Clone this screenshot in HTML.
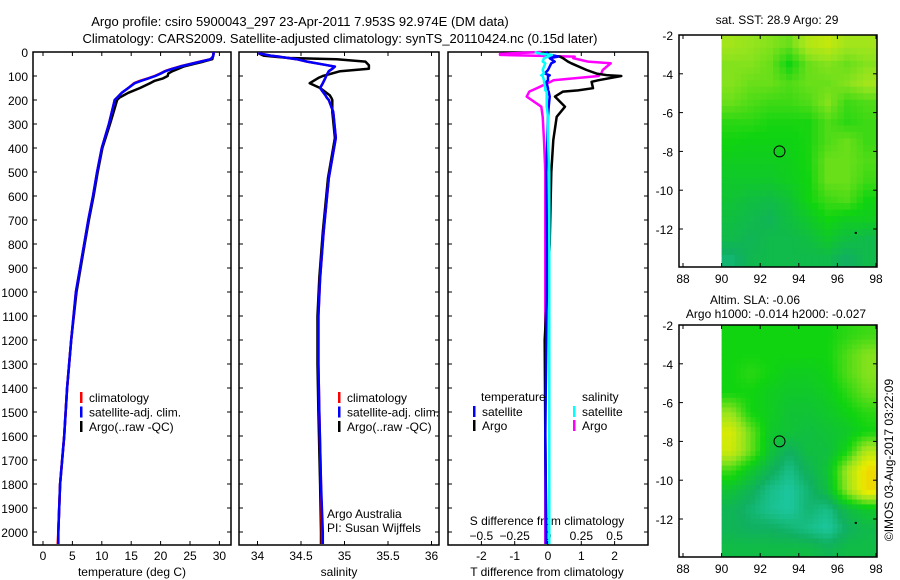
<!DOCTYPE html>
<html><head><meta charset="utf-8"><style>
body{margin:0;background:#fff;}
svg{display:block;font-family:"Liberation Sans",sans-serif;}
text{fill:#000;}
</style></head><body>
<svg id="c" width="900" height="580" viewBox="0 0 900 580" xmlns="http://www.w3.org/2000/svg">
<text x="300" y="26" font-size="13" text-anchor="middle">Argo profile: csiro 5900043_297 23-Apr-2011 7.953S 92.974E (DM data)</text>
<text x="340" y="43" font-size="13" text-anchor="middle">Climatology: CARS2009. Satellite-adjusted climatology: synTS_20110424.nc (0.15d later)</text>
<g id="g"></g>
</svg>
<script>
// ---- data ----
const tDepth=[0,10,20,30,40,50,60,70,80,90,100,110,120,130,150,170,190,200,250,300,400,500,600,700,800,1000,1200,1400,1600,1800,2000,2050];
const tClim=[29,29,28.9,28.5,26.7,25,23.3,21.9,20.7,19.9,19,17.8,16.5,15.5,14.5,13.4,12.6,12.2,11.7,11.2,10,9.2,8.5,7.7,7.0,5.6,4.8,4.1,3.6,2.9,2.6,2.5];
const tSat=[29,29,28.9,28.5,26.8,25.1,23.4,22,20.8,20,19.1,17.9,16.7,15.6,14.5,13.4,12.6,12.2,11.7,11.2,10,9.2,8.5,7.7,7.0,5.6,4.8,4.1,3.6,2.9,2.6,2.6];
const tArgo=[29,29,28.9,28.8,27.3,25.6,24,23,22,21.3,21.2,20.4,19,18.2,16.5,14.5,13,12.6,12,11.4,10.1,9.3,8.6,7.8,7.1,5.7,4.8,4.1,3.6,2.9,2.6,2.6];
const sDepth=[5,15,20,25,30,40,55,61,70,80,100,108,130,150,180,192,200,249,358,525,750,942,1100,1300,1500,1800,2000,2050];
const sClim=[34.01,34.15,34.26,34.35,34.45,34.57,34.8,34.89,34.86,34.82,34.79,34.78,34.75,34.72,34.78,34.8,34.82,34.87,34.9,34.82,34.76,34.72,34.7,34.7,34.71,34.73,34.74,34.74];
const sSat=[34.01,34.15,34.26,34.35,34.45,34.57,34.8,34.89,34.86,34.82,34.79,34.78,34.75,34.72,34.78,34.8,34.82,34.87,34.9,34.82,34.76,34.72,34.7,34.7,34.71,34.73,34.75,34.75];
const sArgo=[34.01,34.07,34.2,34.37,34.91,35.24,35.28,35.28,35.28,34.95,34.75,34.7,34.6,34.72,34.83,34.85,34.86,34.86,34.89,34.81,34.75,34.71,34.69,34.69,34.7,34.72,34.73,34.73];
const dDepth=[0,8,12,19,26,40,47,75,90,97,100,118,124,151,160,165,186,228,270,367,500,800,1200,1600,2000,2050];
const dTArgo=[0,0,-0.04,0.36,0.45,0.6,0.7,1.16,1.46,1.8,2.2,1.5,1.31,1.35,0.9,0.45,0.21,0.51,0.26,0.16,0.1,0.05,-0.1,-0.08,-0.05,-0.05];
const dTSat=[0,-0.1,0.1,0.3,0.05,0.2,0.1,0,-0.1,0.05,0,0,-0.05,0,0,0.02,0.05,0.02,0,-0.02,-0.05,-0.03,-0.05,-0.08,-0.06,-0.06];
const dSArgo=[-0.05,-0.36,-0.36,0.2,0.19,0.3,0.47,0.41,0.4,0.38,0.38,0.04,0.02,-0.085,-0.12,-0.14,-0.16,-0.05,-0.04,-0.03,-0.02,-0.02,-0.02,-0.02,-0.02,-0.02];
const dSSat=[-0.1,-0.05,0.03,0.0,-0.03,-0.04,-0.02,-0.04,-0.03,-0.05,-0.04,-0.03,-0.03,-0.02,-0.02,-0.01,-0.01,-0.01,0,0,0.01,0.01,0.01,0.01,0.01,0.01];
const tTicks=[0,5,10,15,20,25,30];
const sTicks=[34,34.5,35,35.5,36];
const dTTicks=[-2,-1,0,1,2];
const dSTicks=[-0.5,-0.25,0,0.25,0.5];
const lonTicks=[88,90,92,94,96,98];
const latTicks=[-2,-4,-6,-8,-10,-12];
const sstGrid=[
[.62,.60,.58,.55,.65,.68,.62,.62],
[.58,.58,.55,.45,.55,.58,.55,.58],
[.58,.55,.55,.52,.55,.55,.58,.62],
[.55,.52,.50,.50,.52,.58,.50,.52],
[.48,.48,.46,.46,.46,.52,.48,.50],
[.45,.44,.44,.44,.46,.52,.55,.50],
[.42,.42,.42,.43,.46,.55,.55,.52],
[.40,.40,.40,.42,.45,.55,.55,.50],
[.38,.36,.35,.38,.45,.50,.52,.45],
[.36,.34,.32,.36,.40,.45,.42,.42],
[.34,.32,.34,.34,.36,.40,.36,.34],
[.28,.33,.34,.34,.34,.34,.30,.34]];
const slaGrid=[
[.45,.45,.45,.45,.45,.45,.48,.50],
[.45,.45,.45,.45,.45,.45,.52,.58],
[.45,.48,.45,.42,.42,.44,.52,.58],
[.45,.45,.42,.40,.40,.42,.48,.55],
[.60,.45,.42,.38,.38,.40,.44,.48],
[.72,.55,.40,.38,.36,.38,.40,.45],
[.70,.55,.38,.30,.36,.36,.45,.65],
[.50,.40,.32,.25,.32,.38,.62,.80],
[.38,.32,.25,.22,.28,.36,.60,.80],
[.32,.28,.24,.22,.28,.25,.35,.40],
[.32,.30,.30,.28,.25,.22,.30,.34],
[.35,.35,.35,.35,.35,.32,.35,.35]];
const depthTicks=[];for(let d=0;d<=2000;d+=100)depthTicks.push(d);

// ---- helpers ----
const NS='http://www.w3.org/2000/svg';
const G=document.getElementById('g');
function mk(tag,attrs,parent){const e=document.createElementNS(NS,tag);for(const k in attrs)e.setAttribute(k,attrs[k]);(parent||G).appendChild(e);return e;}
function txt(x,y,s,size,anchor,name){const e=mk('text',{x:x,y:y,'font-size':size,'text-anchor':anchor});e.textContent=s;


return e;}
const yD=d=>52+d*0.24;
const xT=t=>43+t*5.88;
const xS=s=>257.5+(s-34)*87;
const xDT=v=>548+v*33.3;
const xDS=v=>548+v*133.3;

function frame(x0,y0,x1,y1,name){const r=mk('rect',{x:x0,y:y0,width:x1-x0,height:y1-y0,fill:'none',stroke:'#000','stroke-width':1.5});

}
function line(xs,ys,color,w,name){let p='';for(let i=0;i<xs.length;i++)p+=(i?'L':'M')+xs[i].toFixed(1)+' '+ys[i].toFixed(1);
const e=mk('path',{d:p,fill:'none',stroke:color,'stroke-width':w,'stroke-linejoin':'round'});

}

// profile panels
const panels=[[33,231],[239,439],[448,648]];
panels.forEach((p,i)=>{frame(p[0],52,p[1],545,'profile-panel-'+(i+1));
 depthTicks.forEach(d=>{mk('line',{x1:p[0],x2:p[0]+4,y1:yD(d),y2:yD(d),stroke:'#000'});mk('line',{x1:p[1]-4,x2:p[1],y1:yD(d),y2:yD(d),stroke:'#000'});});
});
depthTicks.forEach(d=>txt(28,yD(d)+5,String(d),12,'end','depth-tick-label'));
// x ticks
tTicks.forEach(t=>{mk('line',{x1:xT(t),x2:xT(t),y1:545,y2:541,stroke:'#000'});mk('line',{x1:xT(t),x2:xT(t),y1:52,y2:56,stroke:'#000'});txt(xT(t),560,String(t),12,'middle','temp-tick-label');});
sTicks.forEach(t=>{mk('line',{x1:xS(t),x2:xS(t),y1:545,y2:541,stroke:'#000'});mk('line',{x1:xS(t),x2:xS(t),y1:52,y2:56,stroke:'#000'});txt(xS(t),560,String(t),12,'middle','salinity-tick-label');});
dTTicks.forEach(t=>{mk('line',{x1:xDT(t),x2:xDT(t),y1:545,y2:541,stroke:'#000'});mk('line',{x1:xDT(t),x2:xDT(t),y1:52,y2:56,stroke:'#000'});txt(xDT(t),560,String(t),12,'middle','tdiff-tick-label');});
dSTicks.forEach(t=>{txt(xDS(t),540,String(t).replace('-','\u2212'),12,'middle','sdiff-tick-label');});
txt(132,576,'temperature (deg C)',12,'middle','temperature-axis-title');
txt(339,576,'salinity',12,'middle','salinity-axis-title');
txt(547,576,'T difference from climatology',12,'middle','tdiff-axis-title');
txt(547,525,'S difference from climatology',12,'middle','sdiff-axis-title');

// series
line(tArgo.map(xT),tDepth.map(yD),'#000',2.5,'temp-argo-line');
line(tClim.map(xT),tDepth.map(yD),'#f00',2.5,'temp-climatology-line');
line(tSat.map(xT),tDepth.map(yD),'#00f',2.5,'temp-satellite-line');
line(sArgo.map(xS),sDepth.map(yD),'#000',2.5,'salinity-argo-line');
line(sClim.map(xS),sDepth.map(yD),'#f00',2.5,'salinity-climatology-line');
line(sSat.map(xS),sDepth.map(yD),'#00f',2.5,'salinity-satellite-line');
line(dSArgo.map(xDS),dDepth.map(yD),'#f0f',2.5,'sdiff-argo-line');
line(dTArgo.map(xDT),dDepth.map(yD),'#000',2.5,'tdiff-argo-line');
line(dTSat.map(xDT),dDepth.map(yD),'#00f',2.5,'tdiff-satellite-line');
line(dSSat.map(xDS),dDepth.map(yD),'#0ff',2.5,'sdiff-satellite-line');

// legends
function leg(x,y,color,label,name){const r=mk('rect',{x:x,y:y-10,width:2.5,height:11,fill:color});


txt(x+9,y,label,12,'start',name);}
[[0,'#f00','climatology'],[1,'#00f','satellite-adj. clim.'],[2,'#000','Argo(..raw -QC)']].forEach(a=>{leg(80,402+a[0]*14.5,a[1],a[2],'temp-legend-entry');leg(338,402+a[0]*14.5,a[1],a[2],'salinity-legend-entry');});
txt(481,401,'temperature',12,'start','tdiff-legend-header');
txt(582,401,'salinity',12,'start','sdiff-legend-header');
leg(473,416,'#00f','satellite','tdiff-legend-satellite');
leg(473,430,'#000','Argo','tdiff-legend-argo');
leg(573,416,'#0ff','satellite','sdiff-legend-satellite');
leg(573,430,'#f0f','Argo','sdiff-legend-argo');
txt(327,518,'Argo Australia',12,'start','institution-label');
txt(327,532,'PI: Susan Wijffels',12,'start','pi-label');

// maps
const stops=[[0.2,[32,205,175]],[0.3,[16,176,96]],[0.45,[16,212,16]],[0.6,[150,228,30]],[0.75,[232,236,0]],[0.9,[246,180,0]]];
function cmap(v){if(v<=stops[0][0])return stops[0][1];for(let i=1;i<stops.length;i++){if(v<=stops[i][0]){const a=stops[i-1],b=stops[i];const f=(v-a[0])/(b[0]-a[0]);return a[1].map((c,k)=>Math.round(c+(b[1][k]-c)*f));}}return stops[stops.length-1][1];}
function sample(grid,fr,fc){const R=grid.length,C=grid[0].length;
 fr=Math.max(0,Math.min(R-1,fr));fc=Math.max(0,Math.min(C-1,fc));
 const r0=Math.floor(fr),c0=Math.floor(fc),r1=Math.min(R-1,r0+1),c1=Math.min(C-1,c0+1);const a=fr-r0,b=fc-c0;
 return grid[r0][c0]*(1-a)*(1-b)+grid[r0][c1]*(1-a)*b+grid[r1][c0]*a*(1-b)+grid[r1][c1]*a*b;}
function map(top,grid,name,sub){
 const xL=lon=>683+(lon-88)*19.3, yL=lat=>top+(-2-lat)*19.4;
 const bottom=top+232;
 const clip=mk('clipPath',{id:'clip'+name});mk('rect',{x:679,y:top,width:198,height:232},clip);
 const g=mk('g',{'clip-path':'url(#clip'+name+')'});
 const st=1/sub;
 for(let r=0;r<grid.length*sub;r++)for(let c=0;c<grid[0].length*sub;c++){
  const lat=-2-(r+0.5)*st, lon=90+(c+0.5)*st;
  const v=sample(grid,(-2-lat)-0.5,(lon-90)-0.5);
  const col=cmap(v);
  const e=mk('rect',{x:xL(90+c*st).toFixed(1),y:yL(-2-r*st).toFixed(1),width:(19.3*st+0.6).toFixed(1),height:(19.4*st+0.6).toFixed(1),fill:'rgb('+col.join(',')+')'},g);
  
  
 }
 frame(679,top,877,bottom,name+'-frame');
 lonTicks.forEach(l=>{mk('line',{x1:xL(l),x2:xL(l),y1:bottom,y2:bottom-4,stroke:'#000'});mk('line',{x1:xL(l),x2:xL(l),y1:top,y2:top+4,stroke:'#000'});txt(xL(l),bottom+16,String(l),12,'middle',name+'-lon-label');});
 latTicks.forEach(l=>{mk('line',{x1:679,x2:683,y1:yL(l),y2:yL(l),stroke:'#000'});mk('line',{x1:873,x2:877,y1:yL(l),y2:yL(l),stroke:'#000'});txt(673,yL(l)+5,String(l),12,'end',name+'-lat-label');});
 const c=mk('circle',{cx:xL(93),cy:yL(-8),r:5.5,fill:'none',stroke:'#000','stroke-width':1});
 
 
 mk('rect',{x:xL(96.9),y:yL(-12.15),width:2,height:2,fill:'#000'});
}
map(35,sstGrid,'sst-map',3);
map(325,slaGrid,'sla-map',4);
txt(777,24,'sat. SST: 28.9 Argo: 29',12,'middle','sst-map-title');
txt(755,304,'Altim. SLA: -0.06',12,'middle','sla-map-title');
txt(776,318,'Argo h1000: -0.014 h2000: -0.027',12,'middle','sla-argo-heights');
const cr=txt(0,0,'\u00A9IMOS 03-Aug-2017 03:22:09',12,'middle','copyright-timestamp');
cr.setAttribute('transform','translate(893,460) rotate(-90)');
</script>
</body></html>
